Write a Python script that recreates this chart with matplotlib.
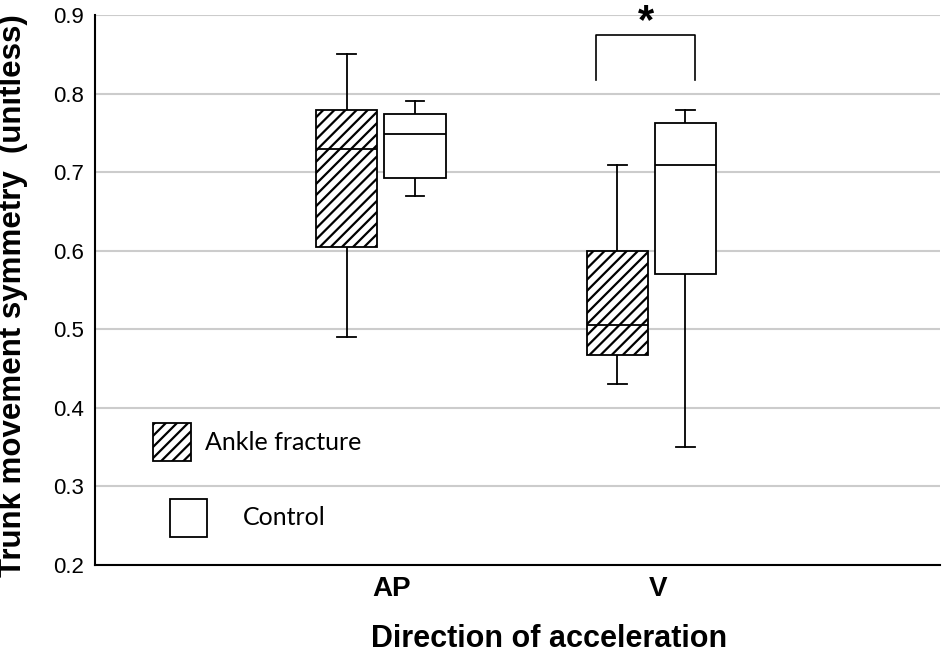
import matplotlib
matplotlib.use("Agg")
import matplotlib.pyplot as plt
from matplotlib.patches import Rectangle

# box statistics
directions = ["AP", "V"]
groups = ["Ankle fracture", "Control"]
whis_lo = {"Ankle fracture": [0.49, 0.43], "Control": [0.67, 0.35]}
q1 = {"Ankle fracture": [0.605, 0.467], "Control": [0.693, 0.570]}
median = {"Ankle fracture": [0.730, 0.505], "Control": [0.749, 0.709]}
q3 = {"Ankle fracture": [0.779, 0.600], "Control": [0.774, 0.762]}
whis_hi = {"Ankle fracture": [0.85, 0.709], "Control": [0.79, 0.779]}
hatches = {"Ankle fracture": "///", "Control": None}

plt.rcParams["hatch.linewidth"] = 1.6

fig = plt.figure(figsize=(9.43, 6.54), dpi=100)
ax = fig.add_axes([95 / 943, 89 / 654, 845 / 943, 550 / 654])

centers = [1, 2]
offset = 0.126
for k, g in enumerate(groups):
    stats = []
    for i in range(len(directions)):
        stats.append(dict(med=median[g][i], q1=q1[g][i], q3=q3[g][i],
                          whislo=whis_lo[g][i], whishi=whis_hi[g][i], fliers=[]))
    pos = [c + (2 * k - 1) * offset for c in centers]
    bp = ax.bxp(stats, positions=pos, widths=0.226, patch_artist=True,
                showfliers=False, capwidths=0.07,
                boxprops=dict(facecolor="white", edgecolor="black", linewidth=1.3),
                medianprops=dict(color="black", linewidth=1.3),
                whiskerprops=dict(color="black", linewidth=1.3),
                capprops=dict(color="black", linewidth=1.3))
    for b in bp["boxes"]:
        b.set_hatch(hatches[g])
        b.set_zorder(3)
    for m in bp["medians"]:
        m.set_zorder(4)

# significance bracket on V
ax.plot([1.795, 1.795, 2.16, 2.16], [0.817, 0.874, 0.874, 0.817],
        color="black", lw=1.2, clip_on=False)
ax.text(1.98, 0.916, "*", ha="center", va="top", fontsize=30,
        fontweight="bold", family="Liberation Sans", clip_on=False)

ax.set_xlim(-0.057, 3.067)
ax.set_ylim(0.2, 0.9)
ax.set_yticks([0.2, 0.3, 0.4, 0.5, 0.6, 0.7, 0.8, 0.9])
ax.set_yticklabels(["0.2", "0.3", "0.4", "0.5", "0.6", "0.7", "0.8", "0.9"],
                   family="Liberation Sans", fontsize=16)
ax.set_xticks([1.04, 2.025])
ax.set_xticklabels(directions, family="Liberation Sans", fontsize=20,
                   fontweight="bold")
ax.tick_params(length=0)
ax.tick_params(axis="y", pad=8)
ax.tick_params(axis="x", pad=8)
ax.grid(axis="y", color="#cccccc", lw=1.5, zorder=0)
ax.set_axisbelow(True)
for s in ["top", "right"]:
    ax.spines[s].set_visible(False)
for s in ["left", "bottom"]:
    ax.spines[s].set_linewidth(1.5)

ax.set_ylabel("Trunk movement symmetry  (unitless)", family="Liberation Sans",
              fontsize=22.5, fontweight="bold")
ax.yaxis.set_label_coords(-0.079, 0.49)
ax.set_xlabel("Direction of acceleration", family="Liberation Sans",
              fontsize=22, fontweight="bold")
ax.xaxis.set_label_coords(0.537, -0.108)

# hand-placed legend
ax.add_patch(Rectangle((0.0686, 0.189), 0.045, 0.069, transform=ax.transAxes,
                       facecolor="white", edgecolor="black", hatch="///", lw=1.3))
ax.text(0.130, 0.222, "Ankle fracture", transform=ax.transAxes, va="center",
        family="Lato", fontsize=18)
ax.add_patch(Rectangle((0.0888, 0.051), 0.0438, 0.069, transform=ax.transAxes,
                       facecolor="white", edgecolor="black", lw=1.3))
ax.text(0.175, 0.0855, "Control", transform=ax.transAxes, va="center",
        family="Lato", fontsize=18)

fig.savefig("out.png", dpi=100)
